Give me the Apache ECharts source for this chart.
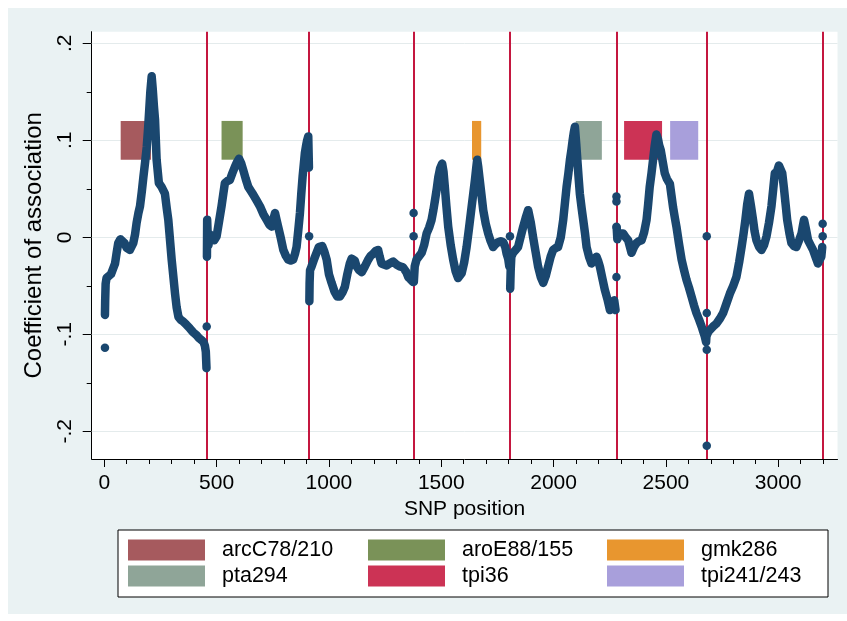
<!DOCTYPE html>
<html><head><meta charset="utf-8">
<script src="https://cdn.jsdelivr.net/npm/echarts@6/dist/echarts.min.js"></script>
<style>html,body{margin:0;padding:0;background:#fff;width:847px;height:621px;overflow:hidden}#c{position:absolute;left:8px;top:8px;width:839px;height:606px}</style>
</head><body><div id="c"></div><script>
// ---- data ----
const xMajor = [0, 500, 1000, 1500, 2000, 2500, 3000];
const xMinor = [100,200,300,400,600,700,800,900,1100,1200,1300,1400,1600,1700,1800,1900,2100,2200,2300,2400,2600,2700,2800,2900,3100,3200];
const yMajor = [-0.2, -0.1, 0, 0.1, 0.2];
const yMinor = [-0.15, -0.05, 0.05, 0.15];
const geneBounds = [456, 912, 1377, 1806, 2280, 2682, 3198];

const siteNames = ['arcC78/210', 'aroE88/155', 'gmk286', 'pta294', 'tpi36', 'tpi241/243'];
const siteStart = [73, 522, 1637, 2099, 2314, 2519];
const siteEnd   = [208, 616, 1678, 2215, 2483, 2644];
const siteLow   = [0.08, 0.08, 0.08, 0.08, 0.08, 0.08];
const siteHigh  = [0.12, 0.12, 0.12, 0.12, 0.12, 0.12];

const arcC = [[3,-0.080],[4,-0.065],[6,-0.048],[10,-0.042],[18,-0.043],[30,-0.038],[40,-0.032],[48,-0.027],[55,-0.016],[62,-0.006],[72,-0.002],[80,-0.001],[90,-0.006],[100,-0.011],[114,-0.013],[122,-0.011],[129,-0.006],[137,0.003],[144,0.015],[152,0.025],[159,0.032],[167,0.047],[174,0.062],[182,0.078],[189,0.093],[195,0.112],[200,0.131],[205,0.150],[211,0.166],[216,0.152],[221,0.135],[226,0.121],[233,0.080],[243,0.056],[255,0.052],[263,0.050],[270,0.045],[278,0.030],[285,0.018],[300,-0.023],[315,-0.058],[322,-0.072],[330,-0.082],[340,-0.085],[352,-0.087],[365,-0.090],[381,-0.094],[396,-0.098],[411,-0.101],[422,-0.104],[433,-0.106],[442,-0.108],[448,-0.112],[452,-0.118],[455,-0.135]];
const aroE = [[457,-0.020],[458,0.018],[460,0.005],[464,-0.008],[470,0.003],[478,-0.002],[490,-0.003],[500,0.001],[510,0.015],[522,0.032],[530,0.045],[537,0.056],[548,0.058],[559,0.059],[570,0.066],[582,0.073],[592,0.078],[600,0.081],[610,0.076],[619,0.069],[630,0.060],[641,0.052],[652,0.048],[663,0.044],[678,0.038],[693,0.032],[708,0.024],[723,0.018],[735,0.013],[745,0.011],[752,0.018],[760,0.025],[767,0.018],[774,0.011],[785,0.000],[797,-0.013],[808,-0.019],[819,-0.023],[830,-0.024],[841,-0.023],[849,-0.017],[856,-0.010],[864,0.008],[871,0.025],[877,0.045],[883,0.063],[888,0.075],[893,0.087],[898,0.094],[903,0.100],[908,0.104],[911,0.072]];
const glpF = [[913,-0.066],[914,-0.047],[916,-0.034],[923,-0.030],[935,-0.022],[945,-0.016],[955,-0.010],[963,-0.008],[970,-0.009],[980,-0.015],[990,-0.023],[1000,-0.038],[1012,-0.047],[1025,-0.056],[1037,-0.061],[1049,-0.061],[1060,-0.057],[1071,-0.051],[1082,-0.038],[1093,-0.027],[1101,-0.022],[1108,-0.020],[1115,-0.024],[1123,-0.030],[1135,-0.034],[1146,-0.036],[1160,-0.030],[1175,-0.023],[1186,-0.019],[1197,-0.017],[1208,-0.014],[1219,-0.013],[1226,-0.020],[1234,-0.027],[1245,-0.028],[1257,-0.029],[1270,-0.027],[1286,-0.025],[1300,-0.028],[1316,-0.030],[1330,-0.031],[1338,-0.032],[1345,-0.036],[1353,-0.041],[1362,-0.043],[1368,-0.044],[1374,-0.046]];
const gmk = [[1378,-0.046],[1382,-0.030],[1390,-0.023],[1400,-0.020],[1413,-0.016],[1424,-0.008],[1435,0.004],[1446,0.010],[1457,0.018],[1465,0.028],[1472,0.038],[1480,0.050],[1487,0.062],[1495,0.071],[1504,0.076],[1510,0.068],[1516,0.052],[1523,0.032],[1531,0.011],[1542,-0.008],[1553,-0.023],[1564,-0.035],[1575,-0.042],[1583,-0.041],[1591,-0.037],[1602,-0.026],[1613,-0.010],[1624,0.010],[1635,0.031],[1643,0.046],[1650,0.059],[1656,0.072],[1660,0.080],[1665,0.072],[1670,0.062],[1675,0.052],[1681,0.040],[1687,0.028],[1698,0.014],[1709,0.004],[1720,-0.004],[1731,-0.010],[1742,-0.007],[1753,-0.005],[1765,-0.004],[1776,-0.005],[1785,-0.010],[1791,-0.017],[1798,-0.022],[1803,-0.030]];
const pta = [[1807,-0.053],[1809,-0.035],[1812,-0.020],[1820,-0.016],[1831,-0.013],[1842,-0.010],[1853,0.000],[1865,0.011],[1876,0.020],[1887,0.028],[1898,0.016],[1909,0.000],[1920,-0.015],[1931,-0.030],[1943,-0.041],[1954,-0.047],[1965,-0.040],[1976,-0.030],[1987,-0.020],[1998,-0.013],[2010,-0.011],[2020,-0.010],[2032,0.000],[2043,0.018],[2050,0.034],[2058,0.052],[2066,0.066],[2073,0.080],[2080,0.091],[2085,0.100],[2090,0.108],[2095,0.114],[2101,0.096],[2107,0.076],[2112,0.060],[2117,0.045],[2125,0.030],[2132,0.018],[2140,0.004],[2147,-0.010],[2158,-0.020],[2169,-0.027],[2180,-0.023],[2191,-0.020],[2198,-0.024],[2206,-0.030],[2217,-0.042],[2228,-0.054],[2240,-0.064],[2251,-0.075],[2262,-0.070],[2270,-0.065],[2276,-0.075]];
const tpi = [[2281,0.010],[2284,-0.002],[2288,0.001],[2299,0.004],[2310,0.004],[2321,0.000],[2332,-0.003],[2340,-0.010],[2347,-0.016],[2358,-0.010],[2369,-0.006],[2380,-0.004],[2392,-0.003],[2403,0.005],[2414,0.018],[2421,0.034],[2428,0.052],[2436,0.066],[2443,0.080],[2450,0.094],[2458,0.106],[2465,0.101],[2470,0.095],[2477,0.090],[2486,0.078],[2495,0.066],[2505,0.060],[2518,0.055],[2525,0.043],[2532,0.031],[2540,0.020],[2547,0.011],[2558,-0.006],[2570,-0.023],[2581,-0.034],[2592,-0.044],[2603,-0.052],[2614,-0.061],[2625,-0.070],[2636,-0.078],[2648,-0.085],[2659,-0.092],[2666,-0.097],[2673,-0.102],[2679,-0.108],[2681,-0.100]];
const yqiL = [[2684,-0.100],[2690,-0.097],[2696,-0.095],[2710,-0.092],[2725,-0.089],[2740,-0.084],[2755,-0.078],[2770,-0.068],[2785,-0.058],[2800,-0.050],[2814,-0.041],[2826,-0.026],[2837,-0.010],[2846,0.004],[2854,0.018],[2862,0.034],[2870,0.045],[2879,0.032],[2888,0.018],[2895,0.006],[2903,-0.003],[2915,-0.010],[2926,-0.013],[2937,-0.008],[2948,0.001],[2959,0.015],[2970,0.032],[2978,0.050],[2985,0.066],[2995,0.068],[3003,0.074],[3010,0.076],[3018,0.066],[3025,0.052],[3033,0.034],[3040,0.018],[3050,0.004],[3059,-0.006],[3070,-0.009],[3081,-0.010],[3093,-0.003],[3104,0.004],[3110,0.012],[3115,0.018],[3124,0.008],[3133,-0.003],[3144,-0.008],[3155,-0.013],[3166,-0.020],[3177,-0.027],[3185,-0.023],[3192,-0.020],[3196,-0.010]];
const outliers = [[3,-0.114],[456,-0.092],[912,0.001],[1377,0.025],[1377,0.001],[1806,0.001],[2280,-0.041],[2280,0.042],[2280,0.037],[2280,0.011],[2682,0.001],[2682,-0.078],[2682,-0.116],[2682,-0.215],[3198,0.014],[3198,0.001]];

// ---- styles ----
const NAVY = '#1A476F';
const RED = '#C4173F';
const siteColors = ['#A65A5E', '#7A9258', '#E8962F', '#8FA598', '#CC3355', '#A89FDB'];
const FONT = 'Liberation Sans, Arial, sans-serif';
const legendLeft = [120, 360, 599];
const legendTop = [531, 557];

const chart = echarts.init(document.getElementById('c'), null, {renderer: 'canvas'});
const yFmt = v => v === 0 ? '0' : (v < 0 ? '-' : '') + String(Math.abs(+v.toFixed(2))).replace(/^0/, '');
const xFmt = v => String(v);

const curveSeries = [arcC, aroE, glpF, gmk, pta, tpi, yqiL].map((d, i) => ({
  type: 'line', name: 'seg' + i, data: d, xAxisIndex: 0, yAxisIndex: 0,
  symbol: 'none', showSymbol: false, z: 5, silent: true,
  lineStyle: {color: NAVY, width: 8.5, cap: 'round', join: 'round'}
}));

const siteSeries = siteNames.map((n, i) => ({
  type: 'custom', name: n, xAxisIndex: 0, yAxisIndex: 0, z: 3,
  itemStyle: {color: siteColors[i]},
  encode: {x: [0, 1], y: [2, 3]},
  data: [[siteStart[i], siteEnd[i], siteLow[i], siteHigh[i]]],
  renderItem: (params, api) => {
    const p0 = api.coord([api.value(0), api.value(3)]);
    const p1 = api.coord([api.value(1), api.value(2)]);
    return {type: 'rect', shape: {x: p0[0], y: p0[1], width: p1[0] - p0[0], height: p1[1] - p0[1]},
            style: {fill: siteColors[i]}};
  }
}));

const legends = siteNames.map((n, i) => ({
  data: [n], left: legendLeft[i % 3], top: legendTop[Math.floor(i / 3)], padding: 0,
  icon: 'rect', itemWidth: 77, itemHeight: 21, selectedMode: false,
  textStyle: {fontSize: 21.5, color: '#000', fontFamily: FONT, padding: [0, 0, 0, 12]}
}));

const option = {
  animation: false,
  backgroundColor: '#EAF2F3',
  grid: {left: 83.7, top: 23.7, right: 9.5, bottom: 155, show: true, backgroundColor: '#ffffff', borderWidth: 0},
  graphic: [{type: 'rect', z: 0, shape: {x: 110, y: 522, width: 710, height: 67},
             style: {fill: '#ffffff', stroke: '#000000', lineWidth: 1}}],
  legend: legends,
  xAxis: [
    {type: 'value', min: -56, max: 3264, position: 'bottom',
     axisLine: {show: true, onZero: false, lineStyle: {color: '#000', width: 1}},
     axisTick: {show: true, customValues: xMajor, length: 8, lineStyle: {color: '#000'}},
     axisLabel: {customValues: xMajor, fontSize: 21, color: '#000', fontFamily: FONT, margin: 14, formatter: xFmt},
     splitLine: {show: false},
     name: 'SNP position', nameLocation: 'middle', nameGap: 34,
     nameTextStyle: {fontSize: 21, color: '#000', fontFamily: FONT}},
    {type: 'value', min: -56, max: 3264, position: 'bottom',
     axisLine: {show: false, onZero: false},
     axisTick: {show: true, customValues: xMinor, length: 5, lineStyle: {color: '#000'}},
     axisLabel: {show: false}, splitLine: {show: false}}
  ],
  yAxis: [
    {type: 'value', min: -0.2286, max: 0.212, position: 'left',
     axisLine: {show: true, onZero: false, lineStyle: {color: '#000', width: 1}},
     axisTick: {show: true, customValues: yMajor, length: 9, lineStyle: {color: '#000'}},
     axisLabel: {customValues: yMajor, rotate: 90, fontSize: 21, color: '#000', fontFamily: FONT, margin: 16, formatter: yFmt},
     splitLine: {show: false},
     name: 'Coefficient of association', nameLocation: 'middle', nameGap: 37,
     nameTextStyle: {fontSize: 24, color: '#000', fontFamily: FONT}},
    {type: 'value', min: -0.2286, max: 0.212, position: 'left',
     axisLine: {show: false, onZero: false},
     axisTick: {show: true, customValues: yMinor, length: 5, lineStyle: {color: '#000'}},
     axisLabel: {show: false}, splitLine: {show: false}}
  ],
  series: [
    {type: 'scatter', name: 'grid', data: [], z: 1, silent: true,
     markLine: {z: 1, silent: true, symbol: 'none', label: {show: false}, animation: false,
       lineStyle: {color: '#E4EBEC', width: 1, type: 'solid'},
       data: yMajor.map(v => ({yAxis: v}))}},
    {type: 'scatter', name: 'bounds', data: [], z: 2, silent: true,
     markLine: {z: 2, silent: true, symbol: 'none', label: {show: false}, animation: false,
       lineStyle: {color: RED, width: 2, type: 'solid'},
       data: geneBounds.map(v => ({xAxis: v}))}},
    ...siteSeries,
    ...curveSeries,
    {type: 'scatter', name: 'pts', data: outliers, symbolSize: 8.5, z: 6, silent: true,
     itemStyle: {color: NAVY, opacity: 1}}
  ]
};
chart.setOption(option);
</script></body></html>
